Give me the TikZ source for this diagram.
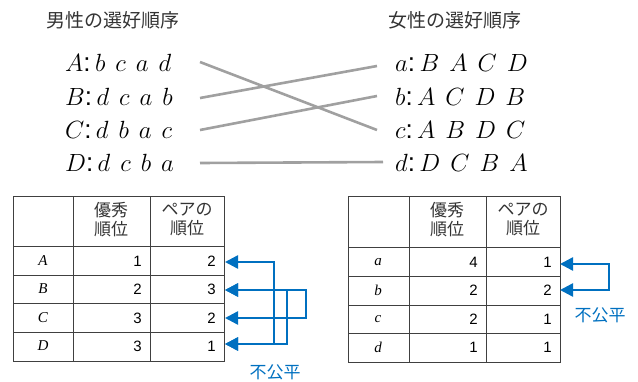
\documentclass[tikz,border=0pt]{standalone}
\usepackage{fontspec}
\setmainfont{Liberation Sans}
\newfontfamily\jp{Noto Sans CJK JP}
\newfontfamily\tms{Liberation Serif}
\usetikzlibrary{arrows.meta}
\definecolor{myblue}{RGB}{0,112,192}
\definecolor{lgray}{RGB}{160,160,160}
\definecolor{tline}{RGB}{64,64,64}
\newcommand{\gp}{\hspace{10pt}}
\tikzset{
  title/.style={font=\jp\fontsize{19}{22}\selectfont, text=black!80},
  pref/.style={anchor=west, inner sep=0pt, font=\fontsize{26}{30}\selectfont},
  match/.style={draw=lgray, line width=2.6pt},
  grid/.style={draw=tline, line width=1pt},
  hdr/.style={font=\jp\fontsize{17}{19}\selectfont, align=center, text=black!80, inner sep=0pt},
  num/.style={anchor=east, font=\fontsize{15}{18}\selectfont, inner sep=0pt},
  rlab/.style={font=\tms\itshape\fontsize{15}{18}\selectfont, inner sep=0pt},
  barrow/.style={draw=myblue, line width=2.5pt, {Triangle[length=13pt,width=13pt]}-{Triangle[length=13pt,width=13pt]}},
  unfair/.style={font=\jp\fontsize{17}{20}\selectfont, text=myblue, inner sep=0pt}
}
\begin{document}
\begin{tikzpicture}[x=1pt,y=-1pt]
\useasboundingbox (0,0) rectangle (638,381);
% titles
\node[title] (tm) at (113,20) {男性の選好順序};
\node[title] (tw) at (455,20) {女性の選好順序};
% preference lists
\node[pref] (lA) at (65,63) {$A$:\,$b$\gp$c$\gp$a$\gp$d$};
\node[pref] (lB) at (65,97) {$B$:\,$d$\gp$c$\gp$a$\gp$b$};
\node[pref] (lC) at (65,130) {$C$:\,$d$\gp$b$\gp$a$\gp$c$};
\node[pref] (lD) at (65,163) {$D$:\,$d$\gp$c$\gp$b$\gp$a$};
\node[pref] (ra) at (395,63) {$a$:\,$B$\gp$A$\gp$C$\gp$D$};
\node[pref] (rb) at (395,97) {$b$:\,$A$\gp$C$\gp$D$\gp$B$};
\node[pref] (rc) at (395,130) {$c$:\,$A$\gp$B$\gp$D$\gp$C$};
\node[pref] (rd) at (395,163) {$d$:\,$D$\gp$C$\gp$B$\gp$A$};
% matching lines
\coordinate (mA) at (200,62);
\coordinate (mB) at (200,98);
\coordinate (mC) at (200,130);
\coordinate (mD) at (200,163);
\coordinate (wa) at (377,66);
\coordinate (wb) at (377,96);
\coordinate (wc) at (377,130);
\coordinate (wd) at (383,162);
\draw[match] (mA) -- (wc);
\draw[match] (mB) -- (wa);
\draw[match] (mC) -- (wb);
\draw[match] (mD) -- (wd);
% left table
\draw[grid] (13,196) rectangle (224,361);
\draw[grid] (73,196) -- (73,361);
\draw[grid] (150,196) -- (150,361);
\foreach \yy in {246,275,303,332} \draw[grid] (13,\yy) -- (224,\yy);
\node[hdr] (h1) at (111,220) {優秀\\順位};
\node[hdr] (h2) at (187,220) {ペアの\\順位};
\node[rlab] (LA) at (43,261) {A};
\node[rlab] (LB) at (43,289) {B};
\node[rlab] (LC) at (43,318) {C};
\node[rlab] (LD) at (43,346) {D};
\node[num] (LA1) at (142,261) {1};
\node[num] (LB1) at (142,289) {2};
\node[num] (LC1) at (142,318) {3};
\node[num] (LD1) at (142,346) {3};
\node[num] (LA2) at (216,261) {2};
\node[num] (LB2) at (216,289) {3};
\node[num] (LC2) at (216,318) {2};
\node[num] (LD2) at (216,346) {1};
% right table
\draw[grid] (348,196) rectangle (560,362);
\draw[grid] (409,196) -- (409,362);
\draw[grid] (486,196) -- (486,362);
\foreach \yy in {247,276,305,333} \draw[grid] (348,\yy) -- (560,\yy);
\node[hdr] (h3) at (447,220) {優秀\\順位};
\node[hdr] (h4) at (523,220) {ペアの\\順位};
\node[rlab] (Ra) at (378,262) {a};
\node[rlab] (Rb) at (378,290) {b};
\node[rlab] (Rc) at (378,319) {c};
\node[rlab] (Rd) at (378,347) {d};
\node[num] (Ra1) at (478,262) {4};
\node[num] (Rb1) at (478,290) {2};
\node[num] (Rc1) at (478,319) {2};
\node[num] (Rd1) at (478,347) {1};
\node[num] (Ra2) at (552,262) {1};
\node[num] (Rb2) at (552,290) {2};
\node[num] (Rc2) at (552,319) {1};
\node[num] (Rd2) at (552,347) {1};
% blue arrows left
\coordinate (tA) at (225,262);
\coordinate (tB) at (225,290);
\coordinate (tC) at (225,318);
\coordinate (tD) at (225,344);
\draw[barrow] (tA) -- ++(49,0) |- (tD);
\draw[barrow] (tB) -- ++(81,0) |- (tC);
\draw[barrow] (tB) -- ++(62,0) |- (tD);
\node[unfair] (u1) at (275,372) {不公平};
% blue arrows right
\coordinate (ta) at (560,264);
\coordinate (tb) at (560,290);
\draw[barrow] (ta) -- ++(49,0) |- (tb);
\node[unfair] (u2) at (600,315) {不公平};
\end{tikzpicture}
\end{document}
